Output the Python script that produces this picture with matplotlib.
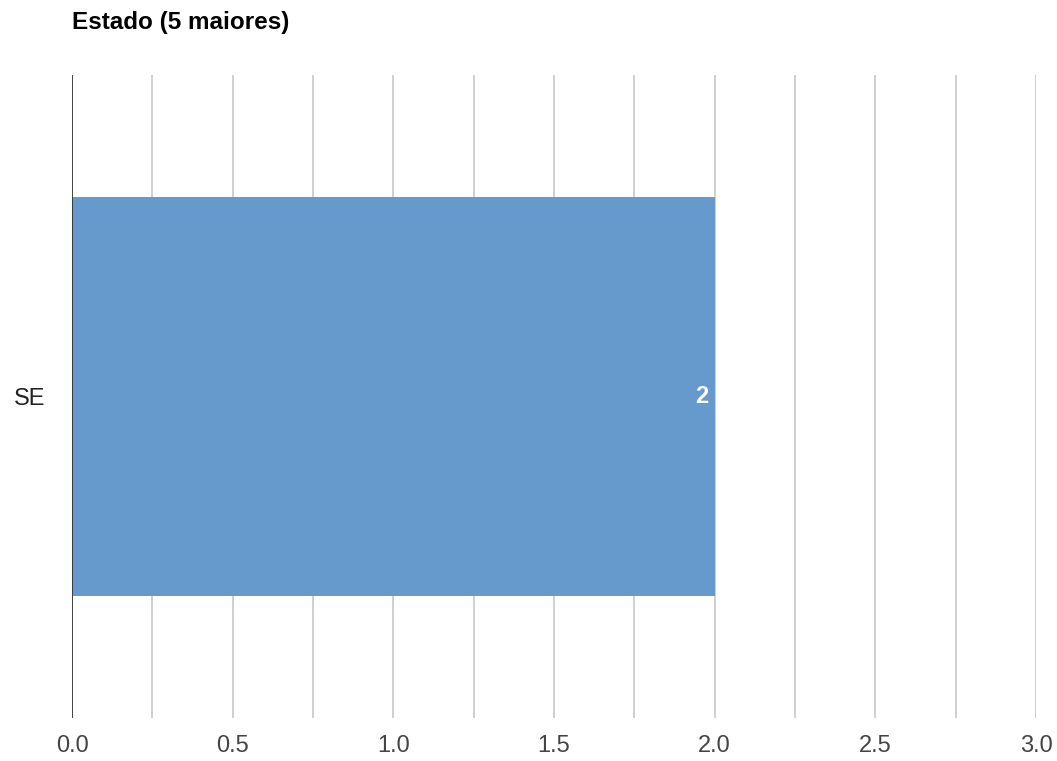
import matplotlib.pyplot as plt
import numpy as np

estados = ["SE"]
contagem = [2]
xticks = [0.0, 0.5, 1.0, 1.5, 2.0, 2.5, 3.0]

plt.rcParams['font.family'] = ['Liberation Sans', 'DejaVu Sans']

fig = plt.figure(figsize=(10.57, 7.61), dpi=100)
ax = fig.add_axes([72/1057, 43/761, 964/1057, 643/761])

y = np.arange(len(estados))
bars = ax.barh(y, contagem, height=0.622, color="#6699cc", zorder=2)

ax.set_xlim(0, 3.0)
ax.set_ylim(-0.5, 0.5)

# grid every 0.25
for gx in np.arange(0.25, 3.01, 0.25):
    ax.axvline(gx, color="#cccccc", lw=1.3, zorder=1)
ax.axvline(0, color="#333333", lw=1.3, zorder=3)

ax.set_xticks(xticks)
ax.set_xticklabels(["%.1f" % t for t in xticks], fontsize=17, color="#444444")
ax.set_yticks(y)
ax.set_yticklabels(estados, fontsize=17, color="#222222")
ax.tick_params(length=0, pad=12)
ax.tick_params(axis='y', pad=19)
for s in ax.spines.values():
    s.set_visible(False)

for b, v in zip(bars, contagem):
    ax.text(b.get_width() - 0.02, b.get_y() + b.get_height() / 2, str(v),
            ha='right', va='center', color="white", fontsize=17,
            fontweight='bold', zorder=4)

fig.text(72/1057, 1 - 23/761, "Estado (5 maiores)", fontsize=17.5,
         fontweight='bold', va='center', ha='left', color="#000000")

fig.savefig("out.png", dpi=100)
